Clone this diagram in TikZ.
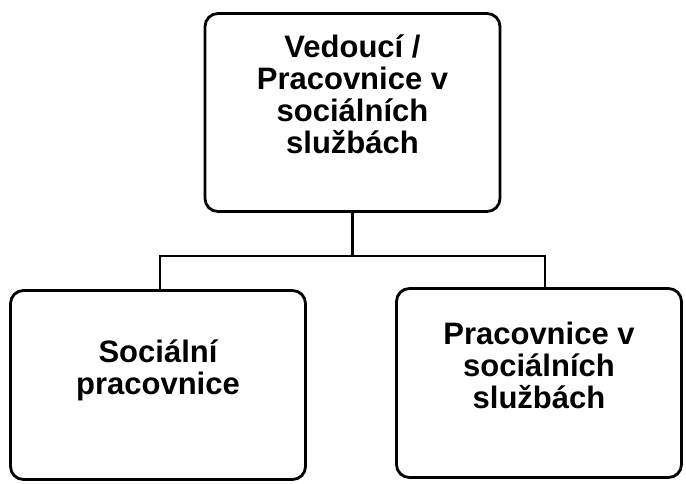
\documentclass[tikz,border=0pt]{standalone}
\usepackage{fontspec}
\setmainfont{Liberation Sans}
\usetikzlibrary{positioning}

\tikzset{
  orgbox/.style={draw=black, line width=2.8pt, rounded corners=13pt, fill=white,
    align=center, font=\bfseries\fontsize{31}{32}\selectfont, inner sep=0pt},
  link/.style={draw=black, line width=2.8pt}
}

\begin{document}
\begin{tikzpicture}[x=1pt,y=-1pt]
\useasboundingbox (0,0) rectangle (686,483);

\node[orgbox, minimum width=295pt, minimum height=198pt] (lead) at (352.5,112.5)
  {Vedoucí /\\Pracovnice v\\sociálních\\službách\\[4pt]\mbox{}};
\node[orgbox, minimum width=295pt, minimum height=189pt] (social) at (158,385)
  {Sociální\\pracovnice\\[4pt]\mbox{}};
\node[orgbox, minimum width=285pt, minimum height=189pt] (worker) at (539,383)
  {Pracovnice v\\sociálních\\službách\\[4pt]\mbox{}};

\draw[link] (lead.south) -- ++(0,43) coordinate (fork);
\draw[link] (fork) -| ([xshift=2pt]social.north);
\draw[link] (fork) -| ([xshift=6pt]worker.north);

\end{tikzpicture}
\end{document}
